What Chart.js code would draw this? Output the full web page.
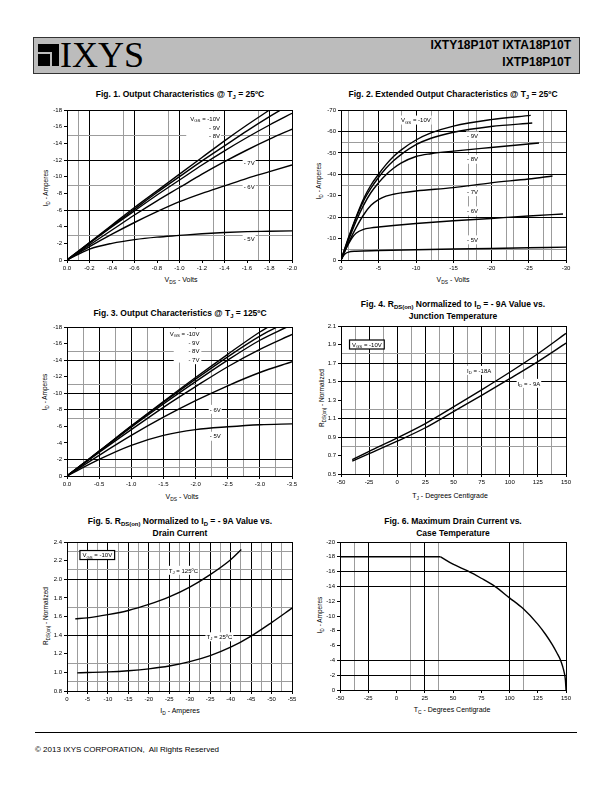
<!DOCTYPE html>
<html>
<head>
<meta charset="utf-8">
<script src="https://cdn.jsdelivr.net/npm/chart.js@4.4.1/dist/chart.umd.min.js"></script>
<style>
body { margin: 0; background: #fff; font-family: "Liberation Sans", Arial, sans-serif; color: #000; }
#page { position: relative; width: 612px; height: 792px; overflow: hidden; }
canvas { position: absolute; }
.abs { position: absolute; white-space: nowrap; }
.ttl { position: absolute; transform: translate(-50%, -50%); font-weight: bold; font-size: 8.5px; line-height: 11.5px; text-align: center; white-space: nowrap; }
.xt { position: absolute; transform: translate(-50%, -50%); font-size: 7px; white-space: nowrap; }
.yt { position: absolute; transform: translate(-50%, -50%) rotate(-90deg); font-size: 6.5px; white-space: nowrap; }
sub { font-size: 0.7em; vertical-align: baseline; position: relative; top: 0.35em; line-height: 0; }
</style>
</head>
<body>
<div id="page">
  <!-- header -->
  <div class="abs" style="left:33px;top:37px;width:545px;height:35px;background:#bcbcbc;border:1px solid #333;"></div>
  <div class="abs" style="left:38px;top:44px;width:21px;height:22px;background:#000;"></div>
  <div class="abs" style="left:38px;top:52px;width:14px;height:2px;background:#bcbcbc;"></div>
  <div class="abs" style="left:50px;top:52px;width:2px;height:14px;background:#bcbcbc;"></div>
  <div class="abs" style="left:60px;top:36px;font-family:'Liberation Serif','Times New Roman',serif;font-size:36px;line-height:38px;">IXYS</div>
  <div class="abs" style="right:41px;top:38px;font-weight:bold;font-size:12px;line-height:14px;text-align:right;">IXTY18P10T IXTA18P10T</div>
  <div class="abs" style="right:41px;top:55px;font-weight:bold;font-size:12px;line-height:14px;text-align:right;">IXTP18P10T</div>

  <!-- titles -->
  <div class="ttl" style="left:180px;top:95px;">Fig. 1. Output Characteristics @ T<sub>J</sub> = 25ºC</div>
  <div class="ttl" style="left:453px;top:95px;">Fig. 2. Extended Output Characteristics @ T<sub>J</sub> = 25ºC</div>
  <div class="ttl" style="left:180px;top:314px;">Fig. 3. Output Characteristics @ T<sub>J</sub> = 125ºC</div>
  <div class="ttl" style="left:453px;top:310px;">Fig. 4. R<sub>DS(on)</sub> Normalized to I<sub>D</sub> = - 9A Value vs.<br>Junction Temperature</div>
  <div class="ttl" style="left:180px;top:527px;">Fig. 5. R<sub>DS(on)</sub> Normalized to I<sub>D</sub> = - 9A Value vs.<br>Drain Current</div>
  <div class="ttl" style="left:453px;top:527px;">Fig. 6. Maximum Drain Current vs.<br>Case Temperature</div>

  <!-- axis titles -->
  <div class="xt" style="left:181px;top:279px;">V<sub>DS</sub> - Volts</div>
  <div class="yt" style="left:45px;top:188px;">I<sub>D</sub> - Amperes</div>
  <div class="xt" style="left:453px;top:279px;">V<sub>DS</sub> - Volts</div>
  <div class="yt" style="left:318px;top:181px;">I<sub>D</sub> - Amperes</div>
  <div class="xt" style="left:182px;top:496px;">V<sub>DS</sub> - Volts</div>
  <div class="yt" style="left:44px;top:392px;">I<sub>D</sub> - Amperes</div>
  <div class="xt" style="left:450px;top:495px;">T<sub>J</sub> - Degrees Centigrade</div>
  <div class="yt" style="left:321px;top:398px;">R<sub>DS(on)</sub> - Normalized</div>
  <div class="xt" style="left:180px;top:710px;">I<sub>D</sub> - Amperes</div>
  <div class="yt" style="left:45px;top:616px;">R<sub>DS(on)</sub> - Normalized</div>
  <div class="xt" style="left:452px;top:709px;">T<sub>C</sub> - Degrees Centigrade</div>
  <div class="yt" style="left:319px;top:615px;">I<sub>D</sub> - Amperes</div>

  <canvas id="fig1" width="279" height="174" style="left:27px;top:102px;"></canvas>
  <canvas id="fig2" width="279" height="174" style="left:301px;top:102px;"></canvas>
  <canvas id="fig3" width="279" height="173" style="left:27px;top:319px;"></canvas>
  <canvas id="fig4" width="279" height="172" style="left:301px;top:318px;"></canvas>
  <canvas id="fig5" width="279" height="173" style="left:27px;top:534px;"></canvas>
  <canvas id="fig6" width="280" height="172" style="left:300px;top:534px;"></canvas>

  <!-- footer -->
  <div class="abs" style="left:35px;top:732px;width:542px;height:1px;background:#000;"></div>
  <div class="abs" style="left:35px;top:745px;font-size:8px;line-height:10px;">© 2013 IXYS CORPORATION,&nbsp; All Rights Reserved</div>
</div>

<script>
// ---- Fig. 1  Output characteristics @ 25C ----
const f1XTicks = [0, -0.2, -0.4, -0.6, -0.8, -1.0, -1.2, -1.4, -1.6, -1.8, -2.0];
const f1YTicks = [0, -2, -4, -6, -8, -10, -12, -14, -16, -18];
const f1XMajor = [-0.2, -0.6, -1.0, -1.4, -1.8];
const f1XMinor = [-0.1, -0.5, -0.9, -1.3, -1.7];
const f1YMajor = [-6, -12];
const f1YMinor = [-3, -9, -15];
const f1Vds = [0, -0.2, -0.4, -0.6, -0.8, -1.0, -1.2, -1.4, -1.6, -1.8, -2.0];
const f1Vds9 = [0, -0.2, -0.4, -0.6, -0.8, -1.0, -1.2, -1.4, -1.6, -1.8, -1.9];
const f1Id10V = [0, -2.1, -4.2, -6.3, -8.3, -10.3, -12.3, -14.3, -16.2, -18.0];
const f1Id9V = [0, -2.05, -4.1, -6.1, -8.1, -10.0, -11.9, -13.7, -15.5, -17.2, -18.0];
const f1Id8V = [0, -2.0, -4.0, -5.9, -7.8, -9.6, -11.4, -13.1, -14.7, -16.2, -17.6];
const f1Id7V = [0, -1.8, -3.6, -5.4, -7.1, -8.7, -10.3, -11.8, -13.2, -14.5, -15.7];
const f1Id6V = [0, -1.6, -3.1, -4.5, -5.8, -7.0, -8.0, -8.9, -9.8, -10.6, -11.4];
const f1Id5V = [0, -1.3, -2.0, -2.45, -2.75, -2.95, -3.15, -3.3, -3.4, -3.45, -3.5];

// ---- Fig. 2  Extended output characteristics @ 25C ----
const f2XTicks = [0, -5, -10, -15, -20, -25, -30];
const f2YTicks = [0, -10, -20, -30, -40, -50, -60, -70];
const f2XMajor = [-5, -10, -15, -20, -25];
const f2XMinor = [-1, -3, -7, -8, -12, -13, -17, -18, -22, -23, -27, -28];
const f2YMajor = [-20, -40, -50, -60];
const f2YMinor = [-5, -35, -55];
const f2Vds10V = [0, -1, -2, -3, -4, -5, -6, -7, -8, -10, -12, -15, -20, -25.3];
const f2Id10V = [0, -10.5, -20, -28.5, -35, -40, -44.5, -48.3, -51.3, -56, -59.3, -62.5, -65.5, -67.5];
const f2Vds9V = [0, -1, -2, -3, -4, -5, -6, -7, -8, -10, -12, -15, -20, -25.5];
const f2Id9V = [0, -10, -19.5, -27.5, -33.5, -38.5, -42.8, -46.3, -49.2, -53.8, -56.8, -59.6, -62.3, -63.9];
const f2Vds8V = [0, -1, -2, -3, -4, -5, -6, -7, -8, -10, -12, -15, -20, -26.4];
const f2Id8V = [0, -9.3, -18, -25.5, -31.5, -36, -39.8, -42.8, -45.2, -48.3, -49.6, -50.8, -52.5, -54.6];
const f2Vds7V = [0, -1, -2, -3, -4, -5, -6, -7, -8, -10, -15, -20, -25, -28.2];
const f2Id7V = [0, -8, -15, -21, -25.5, -28.2, -29.8, -30.7, -31.3, -32.2, -33.8, -36, -37.8, -39.2];
const f2Vds6V = [0, -0.5, -1, -1.5, -2, -3, -4, -5, -7, -10, -15, -20, -25, -29.6];
const f2Id6V = [0, -4, -7.5, -10.5, -12.5, -14.3, -15, -15.4, -16.1, -17, -18.3, -19.4, -20.5, -21.5];
const f2Vds5V = [0, -0.3, -0.6, -1, -2, -5, -10, -15, -20, -25, -30];
const f2Id5V = [0, -1.8, -3, -3.7, -4.1, -4.4, -4.8, -5.1, -5.4, -5.7, -6];

// ---- Fig. 3  Output characteristics @ 125C ----
const f3XTicks = [0, -0.5, -1.0, -1.5, -2.0, -2.5, -3.0, -3.5];
const f3YTicks = [0, -2, -4, -6, -8, -10, -12, -14, -16, -18];
const f3XMajor = [-0.5, -1.0, -1.5, -2.0, -2.5, -3.0];
const f3XMinor = [-0.25, -0.75, -1.25, -1.75, -2.25, -2.75, -3.25];
const f3YMajor = [-2, -8, -10, -14];
const f3YMinor = [-1, -7, -11, -15];
const f3Vds = [0, -0.5, -1.0, -1.5, -2.0, -2.5, -3.0, -3.5];
const f3Vds10V = [0, -0.5, -1.0, -1.5, -2.0, -2.5, -3.0, -3.13];
const f3Vds9V = [0, -0.5, -1.0, -1.5, -2.0, -2.5, -3.0, -3.27];
const f3Vds8V = [0, -0.5, -1.0, -1.5, -2.0, -2.5, -3.0, -3.42];
const f3Id10V = [0, -3.0, -6.05, -9.0, -11.9, -14.7, -17.4, -18];
const f3Id9V = [0, -3.0, -6.0, -8.9, -11.7, -14.4, -16.9, -18];
const f3Id8V = [0, -2.95, -5.9, -8.7, -11.4, -14.0, -16.4, -18];
const f3Id7V = [0, -2.85, -5.6, -8.3, -10.8, -13.2, -15.3, -17.1];
const f3Id6V = [0, -2.5, -4.9, -7.1, -9.1, -10.9, -12.5, -13.8];
const f3Id5V = [0, -2.0, -3.7, -4.9, -5.6, -5.95, -6.2, -6.3];

// ---- Fig. 4  RDS(on) vs junction temperature ----
const f4XTicks = [-50, -25, 0, 25, 50, 75, 100, 125, 150];
const f4YTicks = [0.5, 0.7, 0.9, 1.1, 1.3, 1.5, 1.7, 1.9, 2.1];
const f4XMajor = [-25, 0, 25, 50, 75, 100, 125];
const f4XMinor = [-37.5, -12.5, 12.5, 37.5, 62.5, 87.5, 112.5, 137.5];
const f4YMajor = [0.9, 1.1, 1.5, 1.7];
const f4YMinor = [0.8, 1.2, 1.8];
const f4Tj = [-40, -25, 0, 25, 50, 75, 100, 125, 150];
const f4R18A = [0.655, 0.745, 0.89, 1.045, 1.225, 1.41, 1.6, 1.8, 2.02];
const f4R9A = [0.64, 0.72, 0.855, 1.0, 1.175, 1.35, 1.53, 1.715, 1.915];

// ---- Fig. 5  RDS(on) vs drain current ----
const f5XTicks = [0, -5, -10, -15, -20, -25, -30, -35, -40, -45, -50, -55];
const f5YTicks = [0.8, 1.0, 1.2, 1.4, 1.6, 1.8, 2.0, 2.2, 2.4];
const f5XMajor = [-5, -10, -15, -20, -25, -30, -35, -40, -45, -50];
const f5XMinor = [-2.5, -7.5, -12.5, -17.5, -22.5, -27.5, -32.5, -37.5, -42.5, -47.5, -52.5];
const f5YMajor = [1.4, 2.0];
const f5YMinor = [0.9, 1.1, 1.7, 2.1, 2.3];
const f5Id125 = [-2, -5, -10, -15, -20, -25, -30, -35, -40, -42.6];
const f5R125 = [1.575, 1.585, 1.62, 1.665, 1.73, 1.81, 1.915, 2.05, 2.21, 2.32];
const f5Id25 = [-2.5, -5, -10, -15, -20, -25, -30, -35, -40, -45, -50, -55];
const f5R25 = [0.995, 0.998, 1.005, 1.018, 1.038, 1.068, 1.115, 1.18, 1.27, 1.39, 1.535, 1.69];

// ---- Fig. 6  Max drain current vs case temperature ----
const f6XTicks = [-50, -25, 0, 25, 50, 75, 100, 125, 150];
const f6YTicks = [0, -2, -4, -6, -8, -10, -12, -14, -16, -18, -20];
const f6XMajor = [-25, 25, 100];
const f6XMinor = [-37.5, 12.5, 37.5, 112.5];
const f6YMajor = [-2, -4, -14, -16];
const f6YMinor = [];
const f6TcFlat = [-50, 39];
const f6IdFlat = [-18, -18];
const f6TcDrop = [39, 50, 63, 75, 87, 100, 112, 125, 132, 138, 142, 145, 147, 148.5, 149.5, 150];
const f6IdDrop = [-18, -17.0, -16.1, -15.1, -14.0, -12.45, -11.0, -8.9, -7.5, -6.1, -5.0, -4.1, -3.2, -2.3, -1.3, 0];

Chart.defaults.font.family = '"Liberation Sans", Arial, sans-serif';
Chart.defaults.font.size = 6;
Chart.defaults.color = '#000';

const FONT = '"Liberation Sans", Arial, sans-serif';
const near = (arr, v) => arr.some(a => Math.abs(a - v) < 1e-6);
const fix1 = v => v.toFixed(1);
const int = v => String(Math.round(v));
const pts = (xs, ys) => ys.map((y, i) => ({ x: xs[i], y: y }));

function drawNote(ctx, px, py, it) {
  const parts = it.t.map(p => typeof p === 'string' ? { s: p, sub: false } : { s: p[0], sub: true });
  let w = 0;
  parts.forEach(p => {
    ctx.font = (p.sub ? 4.3 : 6) + 'px ' + FONT;
    p.w = ctx.measureText(p.s).width;
    w += p.w;
  });
  let x0 = it.align === 'right' ? px - w : it.align === 'center' ? px - w / 2 : px;
  const pad = it.box ? 2.5 : 1;
  ctx.fillStyle = '#fff';
  ctx.fillRect(x0 - pad, py - 4.5, w + 2 * pad, 9);
  if (it.box) {
    ctx.lineWidth = 1.2;
    ctx.strokeStyle = '#000';
    ctx.strokeRect(x0 - pad, py - 4.5, w + 2 * pad, 9);
  }
  ctx.fillStyle = '#000';
  ctx.textBaseline = 'alphabetic';
  parts.forEach(p => {
    ctx.font = (p.sub ? 4.3 : 6) + 'px ' + FONT;
    ctx.fillText(p.s, x0, py + 2.2 + (p.sub ? 1.3 : 0));
    x0 += p.w;
  });
}

const notesPlugin = {
  id: 'notes',
  beforeDatasetsDraw(chart, args, opts) {
    const { ctx, scales: { x, y } } = chart;
    ctx.save();
    (opts.blocks || []).forEach(b => {
      const x1 = x.getPixelForValue(b.x1), x2 = x.getPixelForValue(b.x2);
      const y1 = y.getPixelForValue(b.y1), y2 = y.getPixelForValue(b.y2);
      ctx.fillStyle = '#fff';
      ctx.fillRect(Math.min(x1, x2), Math.min(y1, y2), Math.abs(x2 - x1), Math.abs(y2 - y1));
    });
    (opts.items || []).forEach(it => drawNote(ctx, x.getPixelForValue(it.x), y.getPixelForValue(it.y), it));
    ctx.restore();
  },
  afterDraw(chart) {
    const { ctx, chartArea: a } = chart;
    ctx.save();
    ctx.strokeStyle = '#000';
    ctx.lineWidth = 1;
    ctx.strokeRect(Math.round(a.left) + 0.5, Math.round(a.top) + 0.5, Math.round(a.right - a.left), Math.round(a.bottom - a.top));
    ctx.restore();
  }
};
Chart.register(notesPlugin);

function axis(o, horizontal) {
  const all = [...new Set([...o.ticks, ...o.major, ...o.minor])].sort((a, b) => a - b);
  return {
    type: 'linear',
    min: o.min, max: o.max, reverse: !!o.reverse,
    afterBuildTicks: s => { s.ticks = all.map(v => ({ value: v })); },
    afterFit: s => { if (horizontal) s.height = 16; else s.width = 40; },
    ticks: {
      autoSkip: false, maxRotation: 0, minRotation: 0,
      padding: horizontal ? 1.5 : 2,
      font: { size: 6 },
      callback: v => near(o.ticks, v) ? o.fmt(v) : ''
    },
    grid: {
      lineWidth: 1,
      tickLength: 3,
      color: c => near(o.major, c.tick.value) ? '#000' : near(o.minor, c.tick.value) ? '#9c9c9c' : 'rgba(0,0,0,0)',
      tickColor: c => near(o.ticks, c.tick.value) ? '#000' : 'rgba(0,0,0,0)'
    },
    border: { display: true, color: '#000', width: 1 }
  };
}

function line(data) {
  return {
    data: data, borderColor: '#000', borderWidth: 1.4, pointRadius: 0,
    fill: false, cubicInterpolationMode: 'monotone', tension: 0.4
  };
}

function makeChart(id, xo, yo, series, notes) {
  return new Chart(document.getElementById(id), {
    type: 'line',
    data: { datasets: series.map(line) },
    options: {
      responsive: false, animation: false, devicePixelRatio: 1,
      layout: { padding: { top: 8, right: 14, left: 0, bottom: 0 } },
      scales: { x: axis(xo, true), y: axis(yo, false) },
      plugins: { legend: { display: false }, tooltip: { enabled: false }, notes: notes }
    }
  });
}

makeChart('fig1',
  { min: -2, max: 0, reverse: true, ticks: f1XTicks, major: f1XMajor, minor: f1XMinor, fmt: fix1 },
  { min: -18, max: 0, reverse: true, ticks: f1YTicks, major: f1YMajor, minor: f1YMinor, fmt: int },
  [pts(f1Vds, f1Id10V), pts(f1Vds9, f1Id9V), pts(f1Vds, f1Id8V), pts(f1Vds, f1Id7V), pts(f1Vds, f1Id6V), pts(f1Vds, f1Id5V)],
  {
    blocks: [{ x1: -1.06, x2: -1.37, y1: -17.8, y2: -14.4 }],
    items: [
      { x: -1.36, y: -17.0, align: 'right', t: ['V', ['GS'], ' = -10V'] },
      { x: -1.36, y: -15.9, align: 'right', t: ['- 9V'] },
      { x: -1.36, y: -14.9, align: 'right', t: ['- 8V'] },
      { x: -1.57, y: -11.7, align: 'left', t: ['- 7V'] },
      { x: -1.57, y: -8.8, align: 'left', t: ['- 6V'] },
      { x: -1.57, y: -2.5, align: 'left', t: ['- 5V'] }
    ]
  });

makeChart('fig2',
  { min: -30, max: 0, reverse: true, ticks: f2XTicks, major: f2XMajor, minor: f2XMinor, fmt: int },
  { min: -70, max: 0, reverse: true, ticks: f2YTicks, major: f2YMajor, minor: f2YMinor, fmt: int },
  [pts(f2Vds10V, f2Id10V), pts(f2Vds9V, f2Id9V), pts(f2Vds8V, f2Id8V), pts(f2Vds7V, f2Id7V), pts(f2Vds6V, f2Id6V), pts(f2Vds5V, f2Id5V)],
  {
    items: [
      { x: -8.0, y: -65.3, align: 'left', t: ['V', ['GS'], ' = -10V'] },
      { x: -16.8, y: -57.9, align: 'left', t: ['- 9V'] },
      { x: -16.8, y: -47.0, align: 'left', t: ['- 8V'] },
      { x: -16.8, y: -31.9, align: 'left', t: ['- 7V'] },
      { x: -16.8, y: -22.9, align: 'left', t: ['- 6V'] },
      { x: -16.8, y: -9.4, align: 'left', t: ['- 5V'] }
    ]
  });

makeChart('fig3',
  { min: -3.5, max: 0, reverse: true, ticks: f3XTicks, major: f3XMajor, minor: f3XMinor, fmt: fix1 },
  { min: -18, max: 0, reverse: true, ticks: f3YTicks, major: f3YMajor, minor: f3YMinor, fmt: int },
  [pts(f3Vds10V, f3Id10V), pts(f3Vds9V, f3Id9V), pts(f3Vds8V, f3Id8V), pts(f3Vds, f3Id7V), pts(f3Vds, f3Id6V), pts(f3Vds, f3Id5V)],
  {
    blocks: [{ x1: -1.66, x2: -2.09, y1: -17.8, y2: -13.7 }],
    items: [
      { x: -2.06, y: -17.2, align: 'right', t: ['V', ['GS'], ' = -10V'] },
      { x: -2.06, y: -16.15, align: 'right', t: ['- 9V'] },
      { x: -2.06, y: -15.1, align: 'right', t: ['- 8V'] },
      { x: -2.06, y: -14.05, align: 'right', t: ['- 7V'] },
      { x: -2.22, y: -8.05, align: 'left', t: ['- 6V'] },
      { x: -2.22, y: -4.8, align: 'left', t: ['- 5V'] }
    ]
  });

makeChart('fig4',
  { min: -50, max: 150, ticks: f4XTicks, major: f4XMajor, minor: f4XMinor, fmt: int },
  { min: 0.5, max: 2.1, ticks: f4YTicks, major: f4YMajor, minor: f4YMinor, fmt: fix1 },
  [pts(f4Tj, f4R18A), pts(f4Tj, f4R9A)],
  {
    items: [
      { x: -27, y: 1.9, align: 'center', box: true, t: ['V', ['GS'], ' = -10V'] },
      { x: 62, y: 1.62, align: 'left', t: ['I', ['D'], ' = -18A'] },
      { x: 107, y: 1.48, align: 'left', t: ['I', ['D'], ' = - 9A'] }
    ]
  });

makeChart('fig5',
  { min: -55, max: 0, reverse: true, ticks: f5XTicks, major: f5XMajor, minor: f5XMinor, fmt: int },
  { min: 0.8, max: 2.4, ticks: f5YTicks, major: f5YMajor, minor: f5YMinor, fmt: fix1 },
  [pts(f5Id125, f5R125), pts(f5Id25, f5R25)],
  {
    items: [
      { x: -7.4, y: 2.26, align: 'center', box: true, t: ['V', ['GS'], ' = -10V'] },
      { x: -24.9, y: 2.096, align: 'left', t: ['T', ['J'], ' = 125ºC'] },
      { x: -34.1, y: 1.382, align: 'left', t: ['T', ['J'], ' = 25ºC'] }
    ]
  });

makeChart('fig6',
  { min: -50, max: 150, ticks: f6XTicks, major: f6XMajor, minor: f6XMinor, fmt: int },
  { min: -20, max: 0, reverse: true, ticks: f6YTicks, major: f6YMajor, minor: f6YMinor, fmt: int },
  [pts(f6TcFlat, f6IdFlat), pts(f6TcDrop, f6IdDrop)],
  { items: [] });
</script>
</body>
</html>
